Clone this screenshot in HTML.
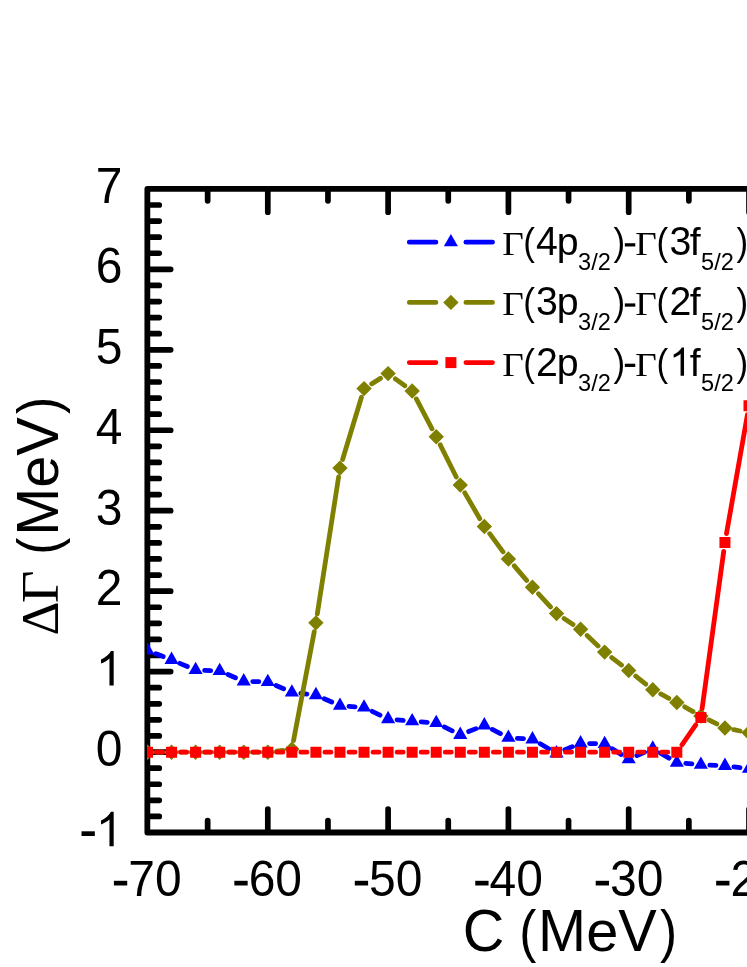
<!DOCTYPE html>
<html><head><meta charset="utf-8"><title>chart</title>
<style>html,body{margin:0;padding:0;background:#fff}svg{display:block;will-change:transform}</style></head>
<body>
<svg width="747" height="967" viewBox="0 0 747 967">
<rect width="747" height="967" fill="#fff"/>
<polyline points="760,188.9 147.35,188.9 147.35,832.5 760,832.5" fill="none" stroke="#000" stroke-width="5.8" stroke-linejoin="round"/>
<path d="M148.85,816.41h10.4M148.85,800.32h10.4M148.85,784.23h10.4M148.85,768.14h10.4M148.85,752.05h21.8M148.85,735.96h10.4M148.85,719.87h10.4M148.85,703.78h10.4M148.85,687.69h10.4M148.85,671.60h21.8M148.85,655.51h10.4M148.85,639.42h10.4M148.85,623.33h10.4M148.85,607.24h10.4M148.85,591.15h21.8M148.85,575.06h10.4M148.85,558.97h10.4M148.85,542.88h10.4M148.85,526.79h10.4M148.85,510.70h21.8M148.85,494.61h10.4M148.85,478.52h10.4M148.85,462.43h10.4M148.85,446.34h10.4M148.85,430.25h21.8M148.85,414.16h10.4M148.85,398.07h10.4M148.85,381.98h10.4M148.85,365.89h10.4M148.85,349.80h21.8M148.85,333.71h10.4M148.85,317.62h10.4M148.85,301.53h10.4M148.85,285.44h10.4M148.85,269.35h21.8M148.85,253.26h10.4M148.85,237.17h10.4M148.85,221.08h10.4M148.85,204.99h10.4M207.65,190.4v10.4M207.65,831.0v-10.4M267.80,190.4v21.8M267.80,831.0v-21.8M327.95,190.4v10.4M327.95,831.0v-10.4M388.10,190.4v21.8M388.10,831.0v-21.8M448.25,190.4v10.4M448.25,831.0v-10.4M508.40,190.4v21.8M508.40,831.0v-21.8M568.55,190.4v10.4M568.55,831.0v-10.4M628.70,190.4v21.8M628.70,831.0v-21.8M688.85,190.4v10.4M688.85,831.0v-10.4M749.00,190.4v21.8M749.00,831.0v-21.8" stroke="#000" stroke-width="5.7" stroke-linecap="round" fill="none"/>
<g font-family="Liberation Sans, sans-serif" fill="#000" style="font-kerning:none">
<path transform="translate(79.82,846.30) scale(0.023438,-0.023438)" d="M72 440H640V640H72Z"/><path transform="translate(95.80,846.30) scale(0.023438,-0.023438)" d="M763 0H583V1147Q518 1085 412.5 1023Q307 961 223 930V1104Q374 1175 487 1276Q600 1377 647 1472H763Z"/>
<text transform="translate(95.80,765.85) scale(1,1.0405)" font-size="48">0</text>
<path transform="translate(95.80,685.40) scale(0.023438,-0.023438)" d="M763 0H583V1147Q518 1085 412.5 1023Q307 961 223 930V1104Q374 1175 487 1276Q600 1377 647 1472H763Z"/>
<text transform="translate(95.80,604.95) scale(1,1.0405)" font-size="48">2</text>
<text transform="translate(95.80,524.50) scale(1,1.0405)" font-size="48">3</text>
<text transform="translate(95.80,444.05) scale(1,1.0405)" font-size="48">4</text>
<text transform="translate(95.80,363.60) scale(1,1.0405)" font-size="48">5</text>
<text transform="translate(95.80,283.15) scale(1,1.0405)" font-size="48">6</text>
<text transform="translate(95.80,202.70) scale(1,1.0405)" font-size="48">7</text>
<path transform="translate(112.21,895.80) scale(0.023438,-0.023438)" d="M72 440H640V640H72Z"/><text transform="translate(128.20,895.80) scale(1,1.0405)" font-size="48">70</text>
<path transform="translate(232.66,895.80) scale(0.023438,-0.023438)" d="M72 440H640V640H72Z"/><text transform="translate(248.65,895.80) scale(1,1.0405)" font-size="48">60</text>
<path transform="translate(353.11,895.80) scale(0.023438,-0.023438)" d="M72 440H640V640H72Z"/><text transform="translate(369.10,895.80) scale(1,1.0405)" font-size="48">50</text>
<path transform="translate(473.56,895.80) scale(0.023438,-0.023438)" d="M72 440H640V640H72Z"/><text transform="translate(489.55,895.80) scale(1,1.0405)" font-size="48">40</text>
<path transform="translate(594.01,895.80) scale(0.023438,-0.023438)" d="M72 440H640V640H72Z"/><text transform="translate(610.00,895.80) scale(1,1.0405)" font-size="48">30</text>
<path transform="translate(714.46,895.80) scale(0.023438,-0.023438)" d="M72 440H640V640H72Z"/><text transform="translate(730.45,895.80) scale(1,1.0405)" font-size="48">20</text>
<text transform="translate(462.70,950.80) scale(1,1.0405)" font-size="57.7">C</text><text transform="translate(519.29,950.80) scale(0.89,1)" font-size="57.7">(</text><text transform="translate(538.11,950.80) scale(1,1.0405)" font-size="57.7">M</text><text transform="translate(586.18,950.80) scale(1,0.985)" font-size="57.7">e</text><text transform="translate(618.27,950.80) scale(1,1.0405)" font-size="57.7">V</text><text transform="translate(660.02,950.80) scale(0.89,1)" font-size="57.7">)</text>
</g>
<g transform="translate(57.9,635.6) rotate(-90)">
<g font-family="Liberation Serif, serif" fill="#000"><text transform="translate(0.00,0.00) scale(1.0,1)" font-size="53">Δ</text><text transform="translate(32.46,0.00) scale(1.075,1)" font-size="53">Γ</text></g>
<g font-family="Liberation Sans, sans-serif" fill="#000" style="font-kerning:none"><text transform="translate(80.95,0.00) scale(0.89,1)" font-size="57.7">(</text><text transform="translate(99.77,0.00) scale(1,1.0405)" font-size="57.7">M</text><text transform="translate(147.84,0.00) scale(1,0.985)" font-size="57.7">e</text><text transform="translate(179.93,0.00) scale(1,1.0405)" font-size="57.7">V</text><text transform="translate(221.68,0.00) scale(0.89,1)" font-size="57.7">)</text></g>
</g>
<clipPath id="c"><rect x="147.1" y="100" width="700" height="800"/></clipPath>
<g clip-path="url(#c)">
<path d="M155.87,653.70L163.19,656.59M179.86,663.36L187.32,666.48M204.61,670.31L210.69,670.55M227.94,674.48L235.48,677.73M252.74,681.54L258.80,681.70M276.05,685.53L283.61,688.81M300.81,693.39L306.97,694.07M324.15,698.69L331.75,702.05M348.96,706.34L355.06,706.79M372.15,711.36L379.99,715.14M397.06,719.85L403.20,720.41M421.14,721.88L427.24,722.33M444.30,726.96L452.20,730.85M468.65,731.51L475.97,728.62M492.34,729.44L500.40,733.59M517.38,738.28L523.48,738.67M540.24,743.77L548.74,748.72M564.84,749.82L572.26,746.77M589.58,743.56L595.64,743.70M612.24,748.74L621.10,754.37M636.93,755.57L644.53,752.21M660.53,753.13L669.05,758.12M685.79,763.41L691.91,763.92M709.87,765.10L715.95,765.38M733.88,766.88L740.06,767.62" stroke="#0000ff" stroke-width="4.8" stroke-linecap="round" fill="none"/>
<path d="M140.45,654.53h14.1L147.50,642.13zM164.51,664.02h14.1L171.56,651.62zM188.57,674.08h14.1L195.62,661.68zM212.63,675.05h14.1L219.68,662.65zM236.69,685.43h14.1L243.74,673.03zM260.75,686.07h14.1L267.80,673.67zM284.81,696.54h14.1L291.86,684.14zM308.87,699.19h14.1L315.92,686.79zM332.93,709.82h14.1L339.98,697.42zM356.99,711.59h14.1L364.04,699.19zM381.05,723.18h14.1L388.10,710.78zM405.11,725.35h14.1L412.16,712.95zM429.17,727.12h14.1L436.22,714.72zM453.23,738.95h14.1L460.28,726.55zM477.29,729.45h14.1L484.34,717.05zM501.35,741.85h14.1L508.40,729.45zM525.41,743.38h14.1L532.46,730.98zM549.47,757.38h14.1L556.52,744.98zM573.53,747.48h14.1L580.58,735.08zM597.59,748.04h14.1L604.64,735.64zM621.65,763.34h14.1L628.70,750.94zM645.71,752.71h14.1L652.76,740.31zM669.77,766.80h14.1L676.82,754.40zM693.83,768.81h14.1L700.88,756.41zM717.89,769.93h14.1L724.94,757.53zM741.95,772.83h14.1L749.00,760.43z" fill="#0000ff"/>
<path d="M156.50,752.20L162.56,752.20M180.56,752.20L186.62,752.20M204.62,752.20L210.68,752.20M228.68,752.20L234.74,752.20M252.74,752.20L258.80,752.20M276.74,751.12L282.92,750.38M293.54,740.46L314.24,631.71M317.30,613.98L338.60,477.00M342.59,459.49L361.43,397.21M371.68,383.84L380.46,378.38M395.40,378.89L404.86,385.73M416.35,398.97L432.03,428.83M440.23,444.85L456.27,477.03M464.80,492.87L479.82,518.67M489.68,533.69L503.06,551.81M514.25,565.89L526.61,580.37M538.52,593.87L550.46,606.96M564.06,618.53L573.04,624.39M587.12,635.49L598.10,645.90M611.78,657.56L621.56,665.04M635.73,676.13L645.73,684.13M660.72,693.95L668.86,698.26M684.67,706.87L693.03,711.57M708.93,720.00L716.89,723.96M733.77,729.72L740.17,730.98" stroke="#808000" stroke-width="4.8" stroke-linecap="round" fill="none"/>
<path d="M139.80,752.20L147.50,744.50L155.20,752.20L147.50,759.90zM163.86,752.20L171.56,744.50L179.26,752.20L171.56,759.90zM187.92,752.20L195.62,744.50L203.32,752.20L195.62,759.90zM211.98,752.20L219.68,744.50L227.38,752.20L219.68,759.90zM236.04,752.20L243.74,744.50L251.44,752.20L243.74,759.90zM260.10,752.20L267.80,744.50L275.50,752.20L267.80,759.90zM284.16,749.30L291.86,741.60L299.56,749.30L291.86,757.00zM308.22,622.87L315.92,615.17L323.62,622.87L315.92,630.57zM332.28,468.11L339.98,460.41L347.68,468.11L339.98,475.81zM356.34,388.59L364.04,380.89L371.74,388.59L364.04,396.29zM380.40,373.62L388.10,365.92L395.80,373.62L388.10,381.32zM404.46,391.01L412.16,383.31L419.86,391.01L412.16,398.71zM428.52,436.80L436.22,429.10L443.92,436.80L436.22,444.50zM452.58,485.09L460.28,477.39L467.98,485.09L460.28,492.79zM476.64,526.45L484.34,518.75L492.04,526.45L484.34,534.15zM500.70,559.05L508.40,551.35L516.10,559.05L508.40,566.75zM524.76,587.22L532.46,579.52L540.16,587.22L532.46,594.92zM548.82,613.61L556.52,605.91L564.22,613.61L556.52,621.31zM572.88,629.31L580.58,621.61L588.28,629.31L580.58,637.01zM596.94,652.08L604.64,644.38L612.34,652.08L604.64,659.78zM621.00,670.51L628.70,662.81L636.40,670.51L628.70,678.21zM645.06,689.75L652.76,682.05L660.46,689.75L652.76,697.45zM669.12,702.46L676.82,694.76L684.52,702.46L676.82,710.16zM693.18,715.98L700.88,708.28L708.58,715.98L700.88,723.68zM717.24,727.98L724.94,720.28L732.64,727.98L724.94,735.68zM741.30,732.72L749.00,725.02L756.70,732.72L749.00,740.42z" fill="#808000"/>
<path d="M156.50,752.20L162.56,752.20M180.56,752.20L186.62,752.20M204.62,752.20L210.68,752.20M228.68,752.20L234.74,752.20M252.74,752.20L258.80,752.20M276.80,752.20L282.86,752.20M300.86,752.20L306.92,752.20M324.92,752.20L330.98,752.20M348.98,752.20L355.04,752.20M373.04,752.20L379.10,752.20M397.10,752.20L403.16,752.20M421.16,752.20L427.22,752.20M445.22,752.20L451.28,752.20M469.28,752.20L475.34,752.20M493.34,752.20L499.40,752.20M517.40,752.20L523.46,752.20M541.46,752.20L547.52,752.20M565.52,752.20L571.58,752.20M589.58,752.20L595.64,752.20M613.64,752.20L619.70,752.20M637.70,752.20L643.76,752.20M661.76,752.20L667.82,752.20M681.96,744.81L695.74,724.98M702.10,708.68L723.72,551.30M726.50,533.52L747.44,414.60" stroke="#ff0000" stroke-width="4.8" stroke-linecap="round" fill="none"/>
<path d="M142.00,746.70h11.0v11.0h-11.0zM166.06,746.70h11.0v11.0h-11.0zM190.12,746.70h11.0v11.0h-11.0zM214.18,746.70h11.0v11.0h-11.0zM238.24,746.70h11.0v11.0h-11.0zM262.30,746.70h11.0v11.0h-11.0zM286.36,746.70h11.0v11.0h-11.0zM310.42,746.70h11.0v11.0h-11.0zM334.48,746.70h11.0v11.0h-11.0zM358.54,746.70h11.0v11.0h-11.0zM382.60,746.70h11.0v11.0h-11.0zM406.66,746.70h11.0v11.0h-11.0zM430.72,746.70h11.0v11.0h-11.0zM454.78,746.70h11.0v11.0h-11.0zM478.84,746.70h11.0v11.0h-11.0zM502.90,746.70h11.0v11.0h-11.0zM526.96,746.70h11.0v11.0h-11.0zM551.02,746.70h11.0v11.0h-11.0zM575.08,746.70h11.0v11.0h-11.0zM599.14,746.70h11.0v11.0h-11.0zM623.20,746.70h11.0v11.0h-11.0zM647.26,746.70h11.0v11.0h-11.0zM671.32,746.70h11.0v11.0h-11.0zM695.38,712.09h11.0v11.0h-11.0zM719.44,536.89h11.0v11.0h-11.0zM743.50,400.23h11.0v11.0h-11.0z" fill="#ff0000"/>
</g>
<path d="M409.3,242.2H435.9M465.9,242.2H492.5" stroke="#0000ff" stroke-width="4.8" stroke-linecap="round"/>
<path d="M443.85,246.33h14.1L450.90,233.93z" fill="#0000ff"/>
<g font-family="Liberation Serif, serif" fill="#000"><text transform="translate(502.30,255.20) scale(1.09,1)" font-size="34.2">Γ</text><text transform="translate(635.20,255.20) scale(1.09,1)" font-size="34.2">Γ</text></g>
<g font-family="Liberation Sans, sans-serif" fill="#000" style="font-kerning:none"><text transform="translate(523.27,255.20) scale(0.89,1)" font-size="39.3">(</text><text transform="translate(536.09,255.20) scale(1,1.0405)" font-size="39.3">4</text><text transform="translate(556.70,255.20) scale(1,1.0)" font-size="39.3">p</text><text transform="translate(578.10,270.00) scale(1,1.0405)" font-size="23.6">3</text><text transform="translate(591.23,270.00) scale(1,1.0)" font-size="23.6">/</text><text transform="translate(597.78,270.00) scale(1,1.0405)" font-size="23.6">2</text><text transform="translate(613.57,255.20) scale(0.89,1)" font-size="39.3">)</text><path transform="translate(623.30,255.20) scale(0.019189,-0.019189)" d="M80 455H625V625H80Z"/><text transform="translate(656.57,255.20) scale(0.89,1)" font-size="39.3">(</text><text transform="translate(669.39,255.20) scale(1,1.0405)" font-size="39.3">3</text><text transform="translate(689.70,255.20) scale(1,1.0)" font-size="39.3">f</text><text transform="translate(701.10,270.00) scale(1,1.0405)" font-size="23.6">5</text><text transform="translate(714.23,270.00) scale(1,1.0)" font-size="23.6">/</text><text transform="translate(720.78,270.00) scale(1,1.0405)" font-size="23.6">2</text><text transform="translate(736.47,255.20) scale(0.89,1)" font-size="39.3">)</text></g>
<path d="M409.3,302.4H435.9M465.9,302.4H492.5" stroke="#808000" stroke-width="4.8" stroke-linecap="round"/>
<path d="M443.20,302.40L450.90,294.70L458.60,302.40L450.90,310.10z" fill="#808000"/>
<g font-family="Liberation Serif, serif" fill="#000"><text transform="translate(502.30,315.40) scale(1.09,1)" font-size="34.2">Γ</text><text transform="translate(635.20,315.40) scale(1.09,1)" font-size="34.2">Γ</text></g>
<g font-family="Liberation Sans, sans-serif" fill="#000" style="font-kerning:none"><text transform="translate(523.27,315.40) scale(0.89,1)" font-size="39.3">(</text><text transform="translate(536.09,315.40) scale(1,1.0405)" font-size="39.3">3</text><text transform="translate(556.70,315.40) scale(1,1.0)" font-size="39.3">p</text><text transform="translate(578.10,330.20) scale(1,1.0405)" font-size="23.6">3</text><text transform="translate(591.23,330.20) scale(1,1.0)" font-size="23.6">/</text><text transform="translate(597.78,330.20) scale(1,1.0405)" font-size="23.6">2</text><text transform="translate(613.57,315.40) scale(0.89,1)" font-size="39.3">)</text><path transform="translate(623.30,315.40) scale(0.019189,-0.019189)" d="M80 455H625V625H80Z"/><text transform="translate(656.57,315.40) scale(0.89,1)" font-size="39.3">(</text><text transform="translate(669.39,315.40) scale(1,1.0405)" font-size="39.3">2</text><text transform="translate(689.70,315.40) scale(1,1.0)" font-size="39.3">f</text><text transform="translate(701.10,330.20) scale(1,1.0405)" font-size="23.6">5</text><text transform="translate(714.23,330.20) scale(1,1.0)" font-size="23.6">/</text><text transform="translate(720.78,330.20) scale(1,1.0405)" font-size="23.6">2</text><text transform="translate(736.47,315.40) scale(0.89,1)" font-size="39.3">)</text></g>
<path d="M409.3,362.6H435.9M465.9,362.6H492.5" stroke="#ff0000" stroke-width="4.8" stroke-linecap="round"/>
<path d="M445.40,357.10h11.0v11.0h-11.0z" fill="#ff0000"/>
<g font-family="Liberation Serif, serif" fill="#000"><text transform="translate(502.30,375.70) scale(1.09,1)" font-size="34.2">Γ</text><text transform="translate(635.20,375.70) scale(1.09,1)" font-size="34.2">Γ</text></g>
<g font-family="Liberation Sans, sans-serif" fill="#000" style="font-kerning:none"><text transform="translate(523.27,375.70) scale(0.89,1)" font-size="39.3">(</text><text transform="translate(536.09,375.70) scale(1,1.0405)" font-size="39.3">2</text><text transform="translate(556.70,375.70) scale(1,1.0)" font-size="39.3">p</text><text transform="translate(578.10,390.50) scale(1,1.0405)" font-size="23.6">3</text><text transform="translate(591.23,390.50) scale(1,1.0)" font-size="23.6">/</text><text transform="translate(597.78,390.50) scale(1,1.0405)" font-size="23.6">2</text><text transform="translate(613.57,375.70) scale(0.89,1)" font-size="39.3">)</text><path transform="translate(623.30,375.70) scale(0.019189,-0.019189)" d="M80 455H625V625H80Z"/><text transform="translate(656.57,375.70) scale(0.89,1)" font-size="39.3">(</text><path transform="translate(669.39,375.70) scale(0.019189,-0.019189)" d="M763 0H583V1147Q518 1085 412.5 1023Q307 961 223 930V1104Q374 1175 487 1276Q600 1377 647 1472H763Z"/><text transform="translate(689.70,375.70) scale(1,1.0)" font-size="39.3">f</text><text transform="translate(701.10,390.50) scale(1,1.0405)" font-size="23.6">5</text><text transform="translate(714.23,390.50) scale(1,1.0)" font-size="23.6">/</text><text transform="translate(720.78,390.50) scale(1,1.0405)" font-size="23.6">2</text><text transform="translate(736.47,375.70) scale(0.89,1)" font-size="39.3">)</text></g>
</svg>
</body></html>
